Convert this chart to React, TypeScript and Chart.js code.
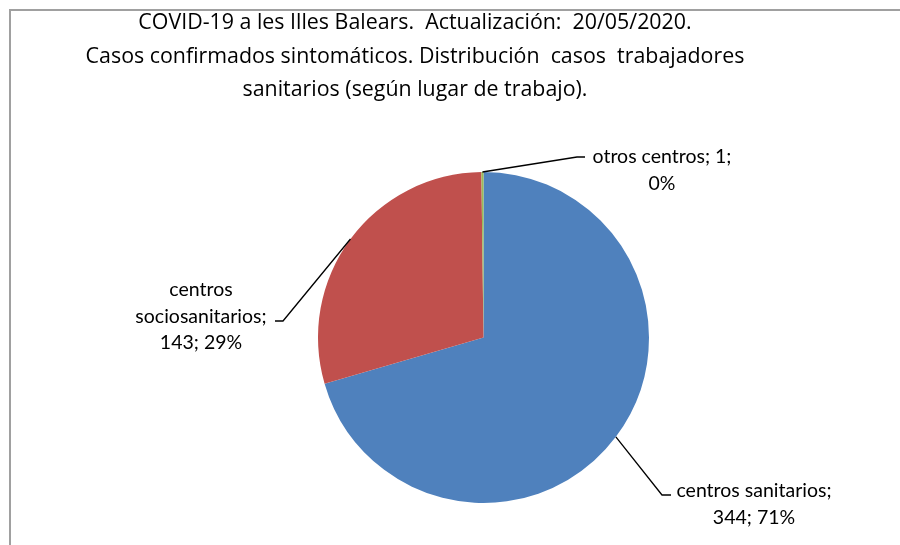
import React, { useEffect, useRef } from "react";
import { Chart, registerables } from "chart.js";

Chart.register(...registerables);

// ---- data ----
const categories = ["centros sanitarios", "centros sociosanitarios", "otros centros"];
const cases = [344, 143, 1];
const percentLabels = ["71%", "29%", "0%"];
const sliceColors = ["#4F81BD", "#C0504D", "#9BBB59"];
const titleLines = [
  "COVID-19 a les Illes Balears.  Actualización:  20/05/2020.",
  "Casos confirmados sintomáticos. Distribución  casos  trabajadores",
  "sanitarios (según lugar de trabajo).",
];

// ---- label text (Excel-style wrapping) ----
function labelText(i: number): string[] {
  const c = categories[i];
  const v = cases[i];
  const p = percentLabels[i];
  if (i === 0) return [c + ";", `${v}; ${p}`];
  if (i === 1) {
    const w = c.split(" ");
    return [w[0], w.slice(1).join(" ") + ";", `${v}; ${p}`];
  }
  return [`${c}; ${v};`, p];
}

// ---- label layout (offsets relative to pie centre) ----
const labelLayout = [
  { elbow: [178.5, 157.5], end: [187.5, 157.5], tx: 270.5, ty: 153.5 },
  { elbow: [-200.5, -16.5], end: [-208.5, -16.5], tx: -282.5, ty: -47.5 },
  { elbow: [93.5, -180.5], end: [101.5, -180.5], tx: 178.5, ty: -180.5 },
];

const LABEL_FONT = "19.5px Lato";
const TITLE_FAMILY = "'Open Sans', 'Noto Sans', sans-serif";
const TITLE_WIDEST = 659; // measured span of the widest title line

const decorPlugin = {
  id: "decor",
  beforeDraw(chart: any) {
    const ctx = chart.ctx;
    ctx.save();
    ctx.fillStyle = "#ffffff";
    ctx.fillRect(0, 0, chart.width, chart.height);
    ctx.strokeStyle = "#a0a0a0";
    ctx.lineWidth = 2;
    ctx.strokeRect(10, 10, chart.width + 20, chart.height + 20);
    ctx.restore();
  },
  afterDraw(chart: any) {
    const ctx = chart.ctx;
    ctx.save();
    // title: size fitted to the widest line
    ctx.font = `20px ${TITLE_FAMILY}`;
    const w = ctx.measureText(titleLines[1]).width;
    const size = Math.min(24, Math.max(14, (20 * TITLE_WIDEST) / w));
    ctx.font = `${size.toFixed(2)}px ${TITLE_FAMILY}`;
    ctx.fillStyle = "#000000";
    ctx.textAlign = "center";
    ctx.textBaseline = "middle";
    const titleCx = 415;
    titleLines.forEach((t, k) => {
      ctx.fillText(t, titleCx, 23 + k * 33.5);
    });

    // labels with leader lines
    const meta = chart.getDatasetMeta(0);
    meta.data.forEach((arc: any, i: number) => {
      const { x: cx, y: cy, startAngle, endAngle, outerRadius } = arc.getProps(
        ["x", "y", "startAngle", "endAngle", "outerRadius"],
        true
      );
      const mid = (startAngle + endAngle) / 2;
      const sx = cx + Math.cos(mid) * outerRadius;
      const sy = cy + Math.sin(mid) * outerRadius;
      const lay = labelLayout[i];
      ctx.strokeStyle = "#000000";
      ctx.lineWidth = 1.3;
      ctx.beginPath();
      ctx.moveTo(sx, sy);
      ctx.lineTo(cx + lay.elbow[0], cy + lay.elbow[1]);
      ctx.lineTo(cx + lay.end[0], cy + lay.end[1]);
      ctx.stroke();

      ctx.font = LABEL_FONT + ", sans-serif";
      ctx.fillStyle = "#000000";
      ctx.textAlign = "center";
      ctx.textBaseline = "middle";
      labelText(i).forEach((line, k) => {
        ctx.fillText(line, cx + lay.tx, cy + lay.ty + k * 26.5);
      });
    });
    ctx.restore();
  },
};

export default function App() {
  const ref = useRef<HTMLCanvasElement | null>(null);
  useEffect(() => {
    let chart: Chart | null = null;
    let cancelled = false;
    const make = () => {
      if (cancelled || !ref.current) return;
      chart = new Chart(ref.current, {
        type: "pie",
        data: {
          labels: categories,
          datasets: [
            {
              data: cases,
              backgroundColor: sliceColors,
              borderWidth: 0,
            },
          ],
        },
        options: {
          responsive: false,
          animation: false,
          devicePixelRatio: 1,
          layout: { padding: { left: 318, right: 251, top: 172, bottom: 42 } },
          plugins: {
            legend: { display: false },
            title: { display: false },
            tooltip: { enabled: false },
          },
        },
        plugins: [decorPlugin],
      });
    };
    const fonts: any = (document as any).fonts;
    if (fonts && fonts.load) {
      Promise.all([fonts.load("20px 'Open Sans'"), fonts.load(LABEL_FONT)])
        .catch(() => null)
        .then(make);
    } else {
      make();
    }
    return () => {
      cancelled = true;
      if (chart) chart.destroy();
    };
  }, []);
  return (
    <div style={{ position: "absolute", left: 0, top: 0, width: 900, height: 545, background: "#fff" }}>
      <canvas ref={ref} width={900} height={545} style={{ display: "block" }} />
    </div>
  );
}
